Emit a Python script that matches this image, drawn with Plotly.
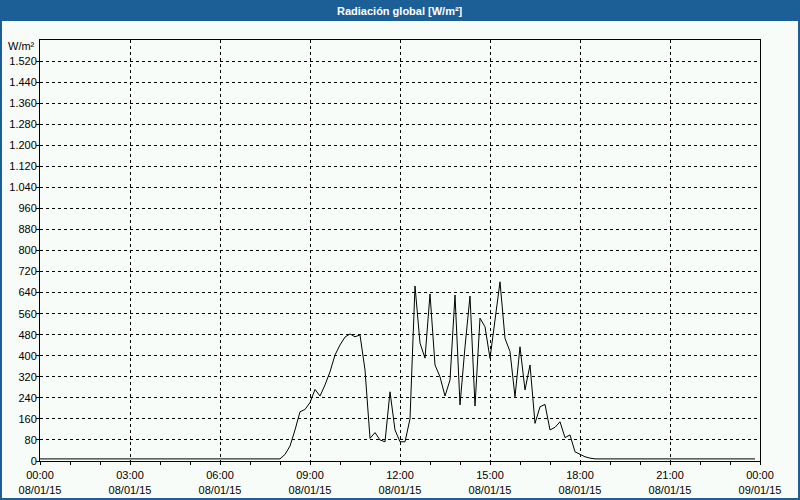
import plotly.graph_objects as go
import pandas as pd

# ---- data (10-minute samples, 08/01/15 00:00 .. 23:50) ----
START = "2015-01-08 00:00"
END = "2015-01-09 00:00"
radiation = [
    # 00:00 - 07:50 (night)
    8, 8, 8, 8, 8, 8,   8, 8, 8, 8, 8, 8,
    8, 8, 8, 8, 8, 8,   8, 8, 8, 8, 8, 8,
    8, 8, 8, 8, 8, 8,   8, 8, 8, 8, 8, 8,
    8, 8, 8, 8, 8, 8,   8, 8, 8, 8, 8, 8,
    # 08:00 - 08:50
    8, 25, 57, 118, 187, 196,
    # 09:00 - 09:50
    222, 272, 247, 289, 339, 403,
    # 10:00 - 10:50
    441, 471, 483, 472, 479, 346,
    # 11:00 - 11:50
    86, 108, 80, 73, 263, 118,
    # 12:00 - 12:50
    73, 73, 160, 665, 448, 391,
    # 13:00 - 13:50
    635, 365, 320, 247, 308, 631,
    # 14:00 - 14:50
    213, 434, 627, 209, 543, 510,
    # 15:00 - 15:50
    390, 536, 681, 466, 416, 244,
    # 16:00 - 16:50
    434, 270, 365, 143, 206, 215,
    # 17:00 - 17:50
    118, 128, 149, 89, 99, 35,
    # 18:00 - 18:50
    25, 16, 11, 8, 8, 8,
    # 19:00 - 23:50
    8, 8, 8, 8, 8, 8,   8, 8, 8, 8, 8, 8,
    8, 8, 8, 8, 8, 8,   8, 8, 8, 8, 8, 8,
    8, 8, 8, 8, 8, 8,
]
times = pd.date_range(START, periods=len(radiation), freq="10min")

x_tick_vals = ["2015-01-08 00:00", "2015-01-08 03:00", "2015-01-08 06:00",
               "2015-01-08 09:00", "2015-01-08 12:00", "2015-01-08 15:00",
               "2015-01-08 18:00", "2015-01-08 21:00", "2015-01-09 00:00"]
x_tick_text = ["00:00<br>08/01/15", "03:00<br>08/01/15", "06:00<br>08/01/15",
               "09:00<br>08/01/15", "12:00<br>08/01/15", "15:00<br>08/01/15",
               "18:00<br>08/01/15", "21:00<br>08/01/15", "00:00<br>09/01/15"]
y_tick_vals = [0, 80, 160, 240, 320, 400, 480, 560, 640, 720, 800, 880, 960,
               1040, 1120, 1200, 1280, 1360, 1440, 1520]

TITLE = "Radiación global [W/m²]"
UNIT = "W/m²"

# ---- layout geometry ----
W, H = 800, 500
L, R, T, B = 40, 40, 40, 39
PW, PH = W - L - R, H - T - B


def px_x(p):
    return (p - L) / PW


def px_y(p):
    return (H - B - p) / PH


FONT = "Liberation Sans, Arial, sans-serif"
BAR = "#1c5f96"
BG = "#f8fcf8"

fig = go.Figure()
fig.add_trace(go.Scatter(x=times, y=radiation, mode="lines",
                         line=dict(color="black", width=1),
                         hoverinfo="skip", showlegend=False))

grid = dict(showgrid=True, gridcolor="black", gridwidth=1, griddash="3px,3px")
fig.update_xaxes(type="date", range=[START, END], tickmode="array",
                 tickvals=x_tick_vals, ticktext=x_tick_text, automargin=False,
                 showline=True, mirror=True, linecolor="black", linewidth=1,
                 ticks="outside", ticklen=3, tickcolor="black",
                 ticklabelstandoff=1,
                 minor=dict(dtick=3600000, tick0=START, ticks="outside",
                            ticklen=3, tickcolor="black", showgrid=False),
                 zeroline=False, tickfont=dict(family=FONT, size=11, color="black"),
                 **grid)
fig.update_yaxes(range=[0, 1600], tickmode="array", tickvals=y_tick_vals,
                 separatethousands=True, automargin=False,
                 showline=True, mirror=True, linecolor="black", linewidth=1,
                 ticks="outside", ticklen=3, tickcolor="black",
                 ticklabelstandoff=-3,
                 zeroline=False, tickfont=dict(family=FONT, size=11, color="black"),
                 **grid)

fig.update_layout(
    width=W, height=H, margin=dict(l=L, r=R, t=T, b=B, pad=0, autoexpand=False),
    paper_bgcolor=BG, plot_bgcolor=BG, separators=",.",
    font=dict(family=FONT, size=11, color="black"),
    shapes=[
        dict(type="rect", xref="paper", yref="paper",
             x0=px_x(0), x1=px_x(W), y0=px_y(21), y1=px_y(0),
             fillcolor=BAR, line=dict(width=0), layer="below"),
        dict(type="rect", xref="paper", yref="paper",
             x0=px_x(1), x1=px_x(W - 1), y0=px_y(H - 1), y1=px_y(1),
             fillcolor="rgba(0,0,0,0)", line=dict(color=BAR, width=2)),
    ],
    annotations=[
        dict(text="<b>" + TITLE + "</b>", xref="paper", yref="paper",
             x=0.5, y=px_y(10.5), xanchor="center", yanchor="middle",
             showarrow=False, font=dict(family=FONT, size=11, color="white")),
        dict(text=UNIT, xref="paper", yref="paper", x=0, y=px_y(46),
             xanchor="right", yanchor="middle", xshift=-3, showarrow=False,
             font=dict(family=FONT, size=11, color="black")),
    ],
)

fig.write_html("out.html")
